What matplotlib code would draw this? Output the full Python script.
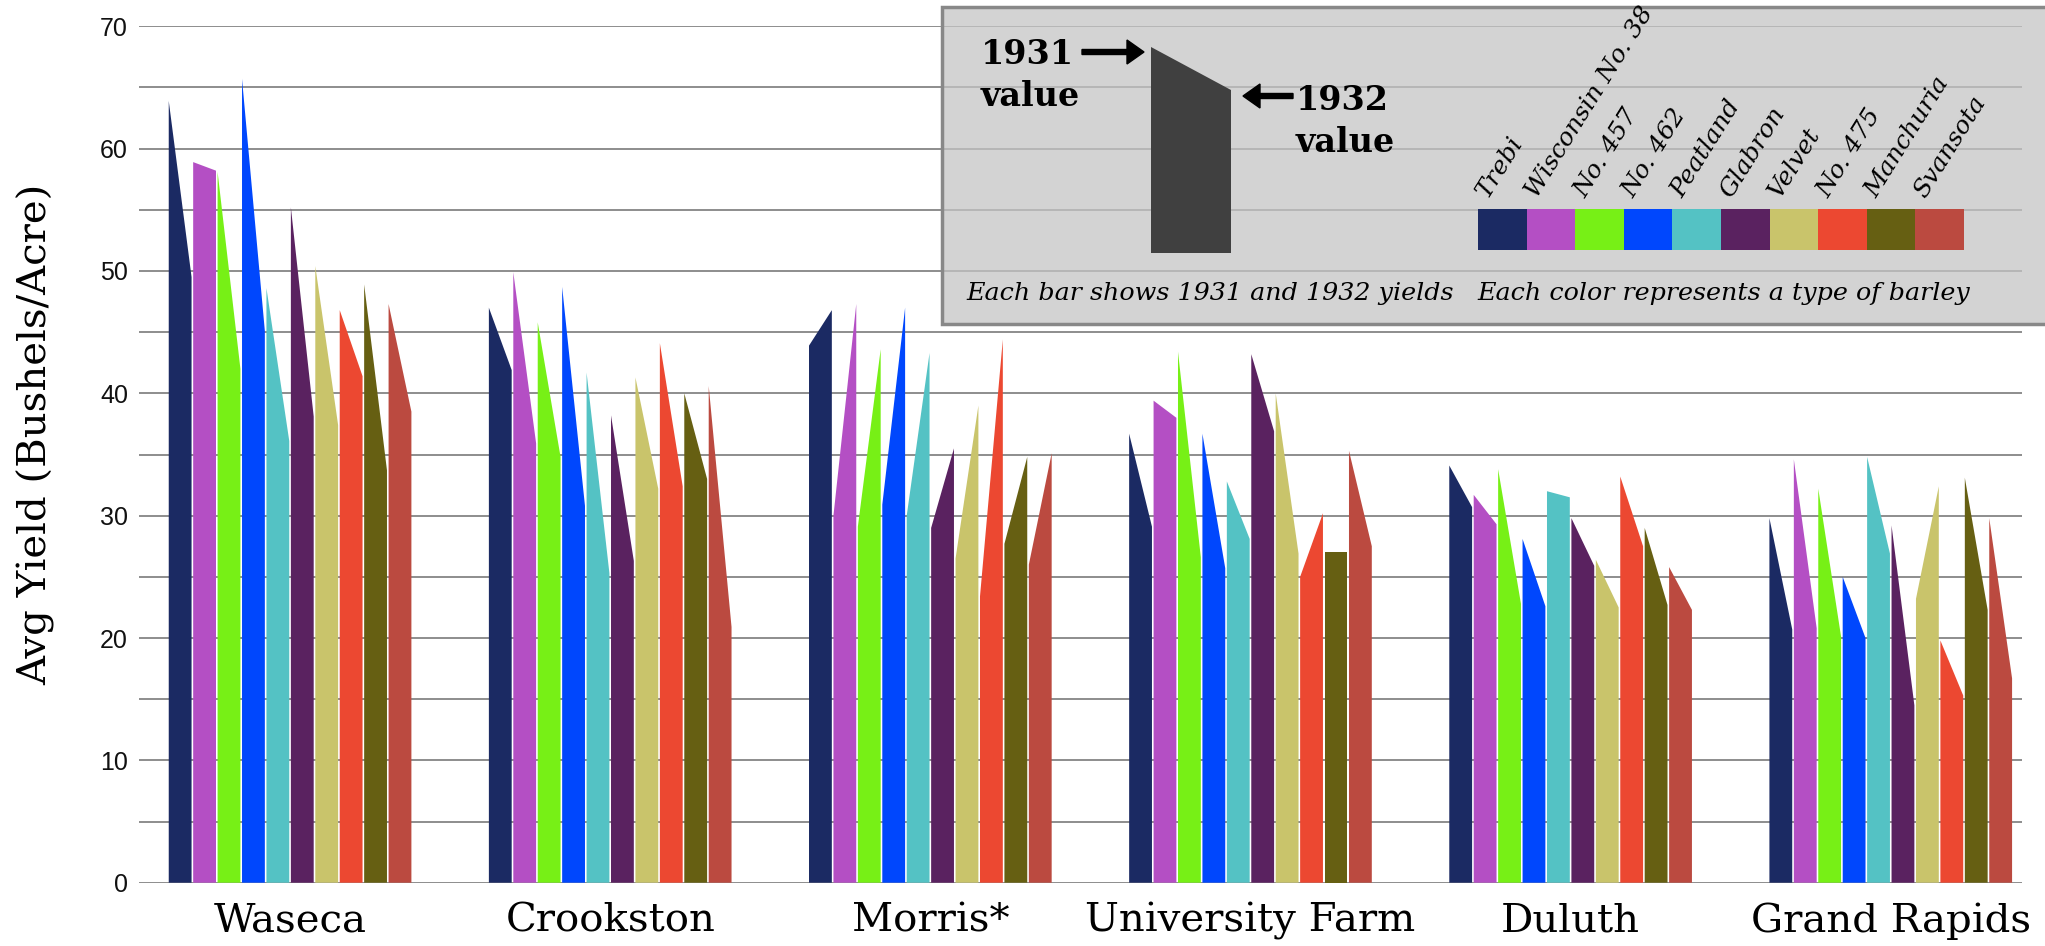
import numpy as np
import matplotlib
matplotlib.use("Agg")
import matplotlib.pyplot as plt
from matplotlib.patches import Polygon, Rectangle, FancyArrow

# ── data: average barley yield, 1931 -> 1932 ──────────────────
sites = ["Waseca", "Crookston", "Morris*", "University Farm", "Duluth", "Grand Rapids"]
varieties = ["Trebi", "Wisconsin No. 38", "No. 457", "No. 462", "Peatland",
             "Glabron", "Velvet", "No. 475", "Manchuria", "Svansota"]
colors = ["#1b2a63", "#b44fc4", "#77f016", "#0047fd", "#54c2c4",
          "#5a2260", "#c9c46b", "#ec4831", "#665f12", "#bb4a40"]

waseca_1931 = [63.9, 58.9, 58.1, 65.7, 48.6, 55.2, 50.4, 46.8, 48.9, 47.3]
waseca_1932 = [49.5, 58.2, 42.0, 45.1, 36.1, 38.1, 37.4, 41.4, 33.7, 38.5]
crookston_1931 = [47.0, 49.9, 45.8, 48.7, 41.7, 38.2, 41.3, 44.1, 40.0, 40.6]
crookston_1932 = [41.9, 35.9, 34.8, 30.8, 25.3, 26.3, 32.2, 32.4, 33.0, 20.9]
morris_1931 = [43.9, 30.0, 29.1, 30.9, 30.0, 29.0, 26.5, 23.4, 27.7, 26.0]
morris_1932 = [46.8, 47.3, 43.6, 47.0, 43.3, 35.5, 39.0, 44.4, 34.8, 35.1]
ufarm_1931 = [36.7, 39.4, 43.4, 36.7, 32.8, 43.2, 40.0, 25.0, 27.0, 35.3]
ufarm_1932 = [29.1, 38.0, 26.6, 25.7, 28.1, 36.9, 26.9, 30.2, 27.0, 27.5]
duluth_1931 = [34.1, 31.7, 33.8, 28.1, 32.0, 29.8, 26.4, 33.2, 29.0, 25.8]
duluth_1932 = [30.7, 29.3, 22.8, 22.6, 31.5, 25.9, 22.5, 27.5, 22.7, 22.3]
grapids_1931 = [29.8, 34.6, 32.2, 25.0, 34.8, 29.2, 23.2, 19.8, 33.1, 29.8]
grapids_1932 = [20.7, 20.8, 20.1, 20.0, 26.9, 14.5, 32.4, 15.3, 22.3, 16.7]

yields_1931 = [waseca_1931, crookston_1931, morris_1931, ufarm_1931, duluth_1931, grapids_1931]
yields_1932 = [waseca_1932, crookston_1932, morris_1932, ufarm_1932, duluth_1932, grapids_1932]

SERIF = "DejaVu Serif"
SANS = "Liberation Sans"

W, H = 2045, 946
fig = plt.figure(figsize=(W / 100, H / 100), dpi=100)
ax = fig.add_axes([139 / W, 1 - 882.7 / H, (2022 - 139) / W, (882.7 - 26.3) / H])

# ── bars: left edge = 1931, right edge = 1932 ─────────────────
slot = 0.0763
gap = 0.005
for i, site in enumerate(sites):
    for j, var in enumerate(varieties):
        x0 = i - 5 * slot + j * slot + gap / 2
        x1 = x0 + slot - gap
        poly = Polygon([(x0, 0), (x0, yields_1931[i][j]), (x1, yields_1932[i][j]), (x1, 0)],
                       closed=True, facecolor=colors[j], edgecolor="none", zorder=3)
        ax.add_patch(poly)

ax.set_xlim(-0.4719, 5.41)
ax.set_ylim(0, 70)
for v in np.arange(0, 71, 5):
    ax.axhline(v, color="#858585", lw=1.3, zorder=1)
ax.set_yticks(np.arange(0, 71, 10))
ax.set_yticklabels([str(v) for v in range(0, 71, 10)], fontfamily=SANS, fontsize=18, color="#111111")
ax.set_xticks(range(len(sites)))
ax.set_xticklabels(sites, fontfamily=SERIF, fontsize=29)
ax.tick_params(axis="y", length=0, pad=8)
ax.tick_params(axis="x", length=0, pad=14)
for s in ax.spines.values():
    s.set_visible(False)

fig.text(36 / W, 1 - 434 / H, "Avg Yield (Bushels/Acre)", rotation=90, ha="center", va="center",
         fontfamily=SERIF, fontsize=29)

# ── legend panel (pixel coordinates) ──────────────────────────
lg = fig.add_axes([0, 0, 1, 1], zorder=5)
lg.set_xlim(0, W)
lg.set_ylim(H, 0)
lg.axis("off")
lg.patch.set_alpha(0)

lg.add_patch(Rectangle((942, 7), 1120, 317, facecolor=(0.77, 0.77, 0.77, 0.74),
                       edgecolor="#888888", lw=2.5))

# example bar
lg.add_patch(Polygon([(1151, 253), (1151, 47), (1231, 90), (1231, 253)], closed=True,
                     facecolor="#404040", edgecolor="none"))
lg.add_patch(FancyArrow(1082, 52, 62, 0, width=5, head_width=24, head_length=17,
                        length_includes_head=True, color="black"))
lg.add_patch(FancyArrow(1293, 96, -50, 0, width=5, head_width=24, head_length=17,
                        length_includes_head=True, color="black"))
big = dict(fontfamily=SERIF, fontweight="bold", fontsize=24, va="center", ha="left")
lg.text(981, 54, "1931", **big)
lg.text(981, 96, "value", **big)
lg.text(1296, 101, "1932", **big)
lg.text(1296, 142, "value", **big)

# colour swatches with rotated names
sw_left, sw_w = 1478, 48.6
for j, var in enumerate(varieties):
    lg.add_patch(Rectangle((sw_left + j * sw_w, 209), sw_w, 41, facecolor=colors[j], edgecolor="none"))
    lg.text(sw_left + j * sw_w + 10, 199, var, rotation=58, rotation_mode="anchor",
            ha="left", va="baseline", fontfamily=SERIF, fontstyle="italic", fontsize=18)

lg.text(1210, 293, "Each bar shows 1931 and 1932 yields", ha="center", va="center",
        fontfamily=SERIF, fontstyle="italic", fontsize=18.3)
lg.text(1724, 293, "Each color represents a type of barley", ha="center", va="center",
        fontfamily=SERIF, fontstyle="italic", fontsize=18.3)

fig.savefig("out.png", dpi=100)
